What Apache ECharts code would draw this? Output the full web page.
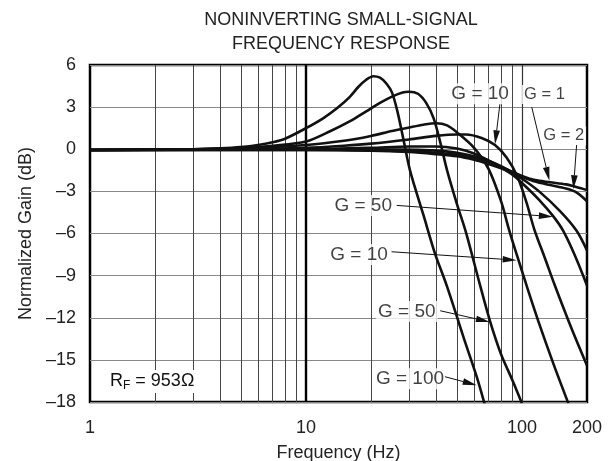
<!DOCTYPE html>
<html>
<head>
<meta charset="utf-8">
<script src="https://cdn.jsdelivr.net/npm/echarts@6/dist/echarts.min.js"></script>
<style>
  html, body { margin: 0; padding: 0; background: #fff; }
  #chart { width: 613px; height: 461px; }
</style>
</head>
<body>
<div id="chart"></div>
<script>
// vertical grid lines (Hz)
const minorFreqs = [2, 3, 4, 5, 6, 7, 8, 9, 20, 30, 40, 50, 60, 70, 80, 90];
const majorFreqs = [10, 100];

// G = 100 (steep family)
const freqA = [1, 3, 4, 5, 6, 7, 8, 10, 12, 14, 16, 17.5, 19, 20.5, 22, 23.5, 25, 26.5, 28.3, 30.3, 35, 39.5, 44.8, 55, 61.7, 67.3];
const gainA = [-0.05, 0, 0.06, 0.15, 0.3, 0.5, 0.75, 1.5, 2.2, 2.95, 3.75, 4.45, 4.95, 5.2, 5.1, 4.7, 4.05, 2.7, 0.65, -1.5, -4.7, -7.4, -9.7, -13.9, -16.2, -18.2];
// G = 50 (steep family)
const freqB = [1, 3, 5, 7, 10, 13, 16, 19, 22, 25, 28, 30, 33, 36, 39, 42, 45, 50, 55, 64, 71, 80, 90, 100];
const gainB = [-0.05, 0, 0.08, 0.25, 0.55, 1.3, 2.0, 2.7, 3.3, 3.75, 4.05, 4.1, 3.95, 3.3, 2.2, 0.4, -1.5, -3.9, -5.9, -9.7, -12.2, -14.6, -16.4, -18.1];
// G = 10 (steep family)
const freqC = [1, 5, 10, 15, 20, 25, 30, 35, 40, 45, 50, 60, 70, 80, 87, 95, 105, 120, 140, 164];
const gainC = [-0.05, 0.05, 0.3, 0.6, 0.95, 1.3, 1.55, 1.75, 1.85, 1.7, 1.2, 0.1, -1.4, -3.7, -5.7, -7.6, -9.7, -12.4, -15.3, -18.1];
// G = 10 (upper label)
const freqD = [1, 5, 10, 15, 20, 30, 40, 50, 55, 65, 75, 85, 95, 105, 114, 128, 142, 170, 200];
const gainD = [-0.05, 0, 0.1, 0.25, 0.4, 0.7, 0.95, 1.05, 1.05, 0.8, 0.3, -0.6, -1.9, -3.8, -5.7, -7.8, -9.7, -12.8, -15.4];
// G = 50 (upper label)
const freqE = [1, 10, 20, 30, 40, 50, 60, 70, 80, 90, 100, 120, 140, 155, 175, 200];
const gainE = [-0.05, 0, 0.1, 0.2, 0.2, 0.05, -0.3, -0.8, -1.3, -1.8, -2.4, -3.6, -4.8, -5.8, -7.5, -9.7];
const freqF = [1, 10, 20, 40, 60, 80, 100, 120, 150, 179, 200];
const gainF = [-0.05, -0.02, 0, -0.1, -0.5, -1.2, -2.1, -3.0, -4.4, -5.8, -7.2];
// G = 1, G = 2
const freq1 = [1, 10, 20, 30, 40, 50, 60, 70, 80, 90, 100, 115, 135, 160, 180, 200];
const gain1 = [-0.05, -0.05, -0.08, -0.15, -0.25, -0.4, -0.6, -0.9, -1.25, -1.6, -1.9, -2.2, -2.35, -2.5, -2.7, -2.9];
const freq2 = [1, 10, 20, 30, 40, 50, 60, 70, 80, 90, 100, 115, 135, 160, 180, 200];
const gain2 = [-0.05, -0.05, -0.1, -0.2, -0.35, -0.5, -0.75, -1.05, -1.35, -1.65, -1.95, -2.3, -2.55, -2.8, -3.1, -3.7];

// annotation text anchors and arrows [fromF, fromG, toF, toG]
const labelNames = ['G = 10', 'G = 1', 'G = 2', 'G = 50', 'G = 10', 'G = 50', 'G = 100'];
const labelPos = [[64, 3.95], [127, 3.9], [156, 0.95], [18.4, -4.0], [17.6, -7.5], [29.3, -11.55], [30.3, -16.35]];
const labelSmall = [false, true, true, false, false, false, false];
const arrows = [
    [79, 3.2, 75, 0.35],
    [111, 3.0, 134, -2.25],
    [179, 0.3, 173, -2.85],
    [26.3, -4.0, 139, -4.8],
    [24.9, -7.3, 94.5, -7.9],
    [41.8, -11.5, 71, -12.3],
    [44, -16.2, 61.7, -16.8]
];

function toPairs(xs, ys) {
    return xs.map((x, i) => [x, ys[i]]);
}

const chart = echarts.init(document.getElementById('chart'), null, { renderer: 'canvas' });
const font = 'Liberation Sans, Arial, Helvetica, sans-serif';

const curveStyle = { color: '#111', width: 2.6 };
const curves = [
    [freqA, gainA], [freqB, gainB], [freqC, gainC], [freqD, gainD],
    [freqE, gainE], [freqF, gainF], [freq1, gain1], [freq2, gain2]
];

const series = curves.map(c => ({
    type: 'line',
    data: toPairs(c[0], c[1]),
    smooth: 0.3,
    showSymbol: false,
    symbol: 'none',
    lineStyle: curveStyle,
    silent: true,
    z: 5
}));

// grid lines on the log axis
series.push({
    type: 'line',
    data: [],
    silent: true,
    z: 1,
    markLine: {
        symbol: 'none',
        silent: true,
        label: { show: false },
        animation: false,
        data: minorFreqs.map(f => ({ xAxis: f, lineStyle: { color: '#444', width: 1, type: 'solid' } }))
            .concat(majorFreqs.map(f => ({ xAxis: f, lineStyle: { color: f === 10 ? '#000' : '#333', width: f === 10 ? 2.4 : 1.2, type: 'solid' } })))
    }
});

// annotation text
series.push({
    type: 'scatter',
    symbolSize: 0,
    silent: true,
    z: 8,
    data: labelNames.map((n, i) => ({
        name: n,
        value: labelPos[i],
        label: {
            show: true,
            position: 'inside',
            formatter: n,
            fontSize: labelSmall[i] ? 16.5 : 19,
            fontFamily: font,
            color: '#111',
            backgroundColor: '#fff',
            padding: [1, 2]
        }
    }))
});

// arrows, drawn through the axes
series.push({
    type: 'custom',
    silent: true,
    z: 9,
    encode: { x: [0, 2], y: [1, 3] },
    data: arrows,
    renderItem: function (params, api) {
        const p1 = api.coord([api.value(0), api.value(1)]);
        const p2 = api.coord([api.value(2), api.value(3)]);
        const dx = p2[0] - p1[0], dy = p2[1] - p1[1];
        const len = Math.sqrt(dx * dx + dy * dy);
        const ux = dx / len, uy = dy / len;
        const hl = 14, hw = 3.3;
        const bx = p2[0] - ux * hl, by = p2[1] - uy * hl;
        return {
            type: 'group',
            children: [{
                type: 'line',
                shape: { x1: p1[0], y1: p1[1], x2: bx, y2: by },
                style: { stroke: '#111', lineWidth: 1 }
            }, {
                type: 'polygon',
                shape: { points: [[p2[0], p2[1]], [bx - uy * hw, by + ux * hw], [bx + uy * hw, by - ux * hw]] },
                style: { fill: '#111' }
            }]
        };
    }
});

const option = {
    animation: false,
    backgroundColor: '#fff',
    textStyle: { fontFamily: font },
    title: {
        text: 'NONINVERTING SMALL-SIGNAL\nFREQUENCY RESPONSE',
        left: 336,
        top: 3,
        textAlign: 'center',
        textStyle: { fontSize: 18, fontWeight: 'normal', color: '#222', lineHeight: 24, fontFamily: font }
    },
    grid: {
        left: 90, top: 65, right: 26, bottom: 59,
        containLabel: false,
        outerBoundsMode: 'none',
        show: true, borderColor: '#000', borderWidth: 2.5, backgroundColor: 'transparent'
    },
    xAxis: {
        type: 'log',
        logBase: 10,
        min: 1,
        max: 200,
        name: 'Frequency (Hz)',
        nameLocation: 'middle',
        nameGap: 42,
        nameTextStyle: { fontSize: 18, color: '#222' },
        axisLine: { show: false },
        axisTick: { show: false },
        splitLine: { show: false },
        axisLabel: { fontSize: 18, color: '#222', margin: 17, showMaxLabel: true }
    },
    yAxis: {
        type: 'value',
        min: -18,
        max: 6,
        interval: 3,
        name: 'Normalized Gain (dB)',
        nameLocation: 'middle',
        nameGap: 55,
        nameTextStyle: { fontSize: 18, color: '#222' },
        axisLine: { show: false },
        axisTick: { show: false },
        splitLine: { lineStyle: { color: '#888', width: 1 } },
        axisLabel: {
            fontSize: 18, color: '#222', margin: 14,
            formatter: v => (v < 0 ? '\u2013' + Math.abs(v) : String(v))
        }
    },
    graphic: [{
        type: 'text',
        left: 107,
        top: 370,
        z: 10,
        style: {
            text: 'R{s|F} = 953\u03a9',
            rich: { s: { fontSize: 12, verticalAlign: 'bottom', padding: [9, 0, 0, 0] } },
            fontSize: 18,
            fill: '#111',
            backgroundColor: '#fff',
            padding: [1, 3],
            fontFamily: font
        }
    }],
    series: series
};

chart.setOption(option);
</script>
</body>
</html>
